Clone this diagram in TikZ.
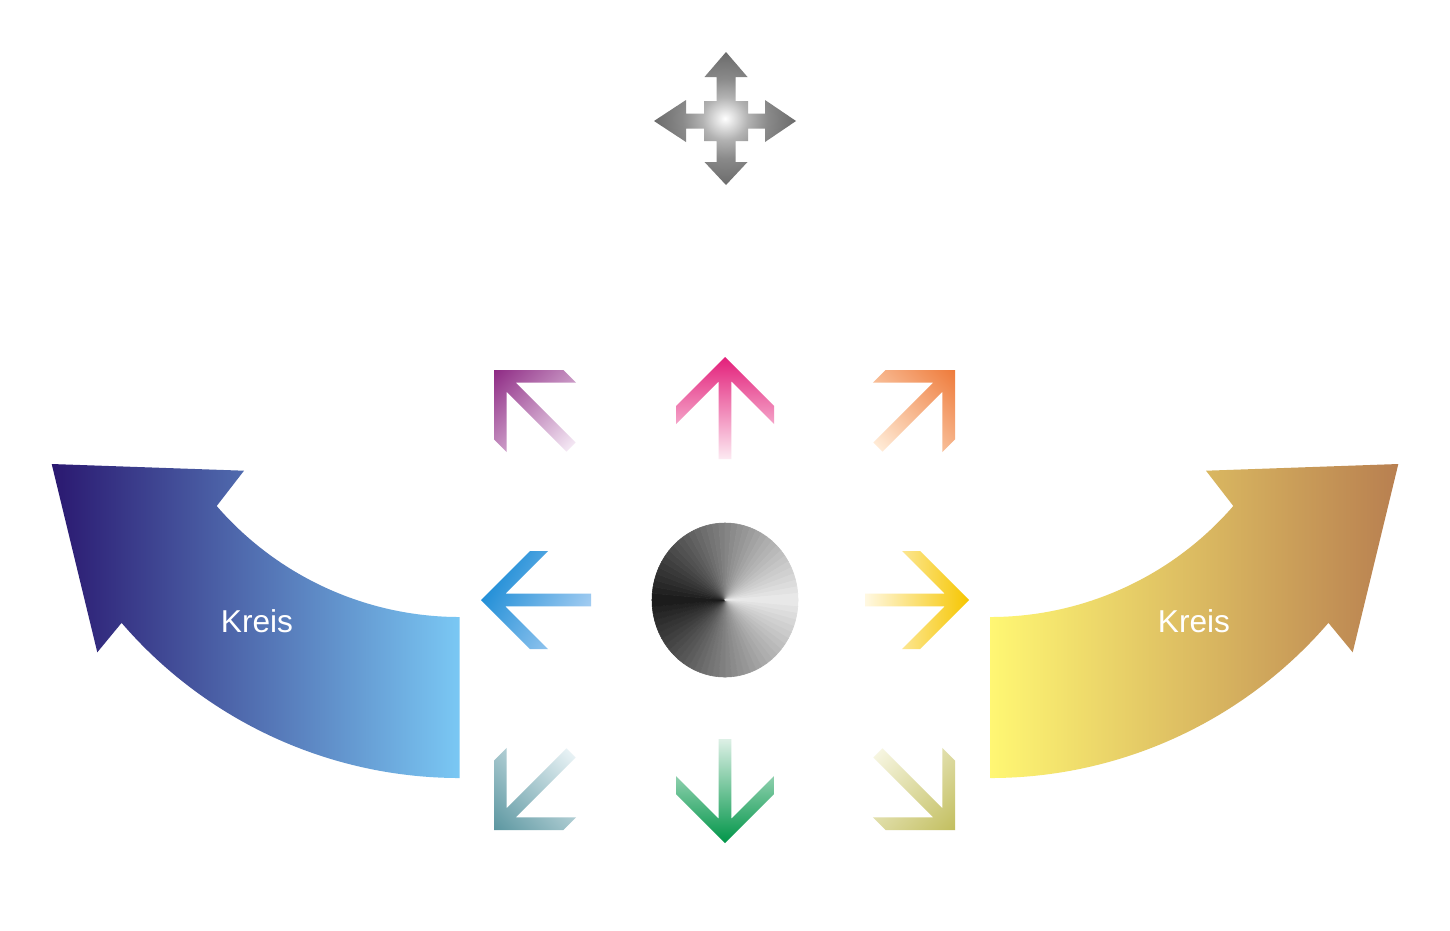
\documentclass[tikz,border=0pt]{standalone}
\usepackage{fontspec}
\usepackage{tikz}
\usepackage{xcolor}
\newfontfamily\kreisfont{Liberation Sans}
\definecolor{kreistipL}{RGB}{42,24,112}
\definecolor{kreismidL}{RGB}{85,102,170}
\definecolor{kreistailL}{RGB}{122,200,244}
\definecolor{kreistipR}{RGB}{184,127,80}
\definecolor{kreismidR}{RGB}{221,181,101}
\definecolor{kreistailR}{RGB}{255,247,115}
\definecolor{tipUL}{RGB}{142,42,132}
\definecolor{tailUL}{RGB}{244,232,244}
\definecolor{tipU}{RGB}{227,31,122}
\definecolor{tailU}{RGB}{253,234,242}
\definecolor{tipUR}{RGB}{238,122,58}
\definecolor{tailUR}{RGB}{255,235,214}
\definecolor{tipL}{RGB}{28,140,214}
\definecolor{tailL}{RGB}{166,206,242}
\definecolor{tipR}{RGB}{246,198,0}
\definecolor{tailR}{RGB}{255,248,226}
\definecolor{tipDL}{RGB}{91,150,160}
\definecolor{tailDL}{RGB}{232,242,245}
\definecolor{tipD}{RGB}{0,149,72}
\definecolor{tailD}{RGB}{221,240,230}
\definecolor{tipDR}{RGB}{194,190,94}
\definecolor{tailDR}{RGB}{246,245,224}
\pgfdeclareradialshading{movecursor}{\pgfpoint{0bp}{0bp}}{%
  color(0bp)=(white); color(8bp)=(black!30); color(15bp)=(black!46);
  color(25bp)=(black!58); color(50bp)=(black!58)}
\tikzset{
  kreislabel/.style={text=white, inner sep=0pt, font=\kreisfont\fontsize{22.5}{27}\selectfont},
  conewedge/.style={fill=#1, draw=#1, line width=0.4pt}
}

\begin{document}
\begin{tikzpicture}[x=0.025cm, y=-0.025cm]
  \fill[white] (0,0) rectangle (1450,930);
  \useasboundingbox (0,0) rectangle (1450,930);

  % move cursor
  \shade[shading=movecursor]
    (726,52) -- (747.5,77) -- (735.5,77) -- (735.5,101) -- (748,101) -- (748,113.5)
    -- (765,113.5) -- (765,100) -- (796,121) -- (765,142) -- (765,128.5) -- (748,128.5)
    -- (748,141) -- (735.5,141) -- (735.5,162) -- (747.5,162) -- (726,185) -- (704.5,162)
    -- (716.5,162) -- (716.5,141) -- (704,141) -- (704,128.5) -- (686,128.5) -- (686,142)
    -- (654,121) -- (686,100) -- (686,113.5) -- (704,113.5) -- (704,101) -- (716.5,101)
    -- (716.5,77) -- (704.5,77) -- cycle;

  % cone disc
  \foreach \a in {0,5,...,355}{
    \pgfmathsetmacro\lum{10+82*abs(180-(\a+2.5))/180}
    \pgfmathsetmacro\b{\a+5}
    \path[conewedge=white!\lum!black] (725,600) -- ++(\a:73 and 77)
      arc[start angle=\a, end angle=\b, x radius=73, y radius=77] -- cycle;
  }

  % eight direction arrows
  \foreach \px/\py/\rot/\len/\dir/\sa in {725/357/0/102/U/0, 494/370/45/109/UL/0,
      955/370/-45/109/UR/0, 481/600/90/110/L/-30, 969/600/-90/104/R/0,
      725/843/180/104/D/0, 494/830/135/109/DL/0, 955/830/-135/109/DR/0}{
    \begin{scope}[transform canvas={shift={(\px,\py)}, rotate=\rot}]
      \shade[top color=tip\dir, bottom color=tail\dir, shading angle=\sa]
        (0,0) -- (49,49) -- (49,67) -- (6.4,24.4) -- (6.4,\len) -- (-6.4,\len)
        -- (-6.4,24.4) -- (-49,67) -- (-49,49) -- cycle;
    \end{scope}
  }

  % curved Kreis arrows
  \foreach \sx/\ox/\side in {1/0/L, -1/1450/R}{
    \begin{scope}[transform canvas={shift={(\ox,0)}, xscale=\sx}]
      \shade[left color=kreistip\side, middle color=kreismid\side, right color=kreistail\side]
        (51.7,464) -- (244,470.7) -- (216.7,506)
        arc[start angle=139.1, end angle=90, radius=321.5] -- ++(0,161)
        arc[start angle=90, end angle=139.3, radius=446] -- (97.3,652.3) -- cycle;
    \end{scope}
  }
  \node[kreislabel] (kreisL) at (257,621.3) {Kreis};
  \node[kreislabel] (kreisR) at (1194,621.3) {Kreis};
\end{tikzpicture}
\end{document}
